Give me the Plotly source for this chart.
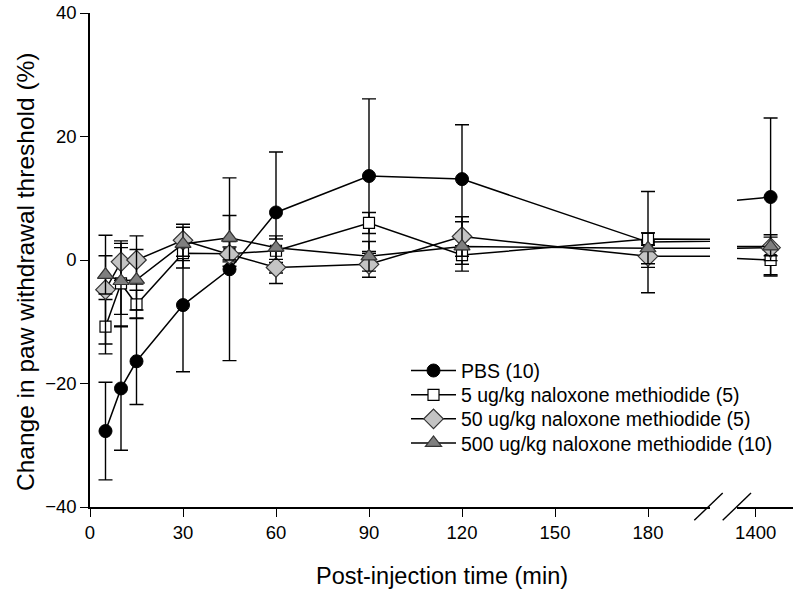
import plotly.graph_objects as go

# ---------------- data ----------------
times = [5, 10, 15, 30, 45, 60, 90, 120, 180, 1440]

pbs = [-27.7, -20.8, -16.4, -7.3, -1.5, 7.7, 13.6, 13.1, 2.9, 10.2]
pbs_err = [7.9, 10.0, 7.0, 10.8, 14.8, 9.8, 12.5, 8.8, 8.2, 12.8]

nal5 = [-10.8, -3.8, -7.2, 1.1, 1.0, 1.5, 6.0, 0.8, 3.4, 0.0]
nal5_err = [4.4, 6.9, 2.3, 2.4, 2.0, 1.9, 1.7, 1.5, 1.0, 2.4]

nal50 = [-4.8, -0.3, 0.0, 3.2, 0.9, -1.2, -0.7, 3.8, 0.6, 2.0]
nal50_err = [8.8, 3.0, 3.9, 2.6, 1.2, 2.6, 2.1, 3.2, 1.8, 2.1]

nal500 = [-2.4, -3.4, -3.2, 2.6, 3.6, 2.0, 0.6, 2.2, 1.9, 2.2]
nal500_err = [3.1, 5.4, 4.9, 2.7, 3.6, 1.9, 2.4, 4.0, 2.5, 1.5]

names = ["PBS (10)", "5 ug/kg naloxone methiodide (5)",
         "50 ug/kg naloxone methiodide (5)", "500 ug/kg naloxone methiodide (10)"]

left_ticks = [0, 30, 60, 90, 120, 150, 180]
right_ticks = [1400]
y_ticks = [-40, -20, 0, 20, 40]

# ---------------- layout geometry ----------------
# body margin is removed (post_script), so figure pixels == screen pixels
W, H = 800, 594
# target screen positions of the plot area
S_LEFT, S_RIGHT, S_TOP, S_BOTTOM = 90, 793, 13.3, 506.7
ML = S_LEFT
MR = W - S_RIGHT
MT = S_TOP
MB = H - S_BOTTOM
PW = W - ML - MR
PH = H - MT - MB


def px(xs):
    """screen x pixel -> paper x"""
    return (xs - S_LEFT) / PW


def py(ys):
    """screen y pixel -> paper y"""
    return (S_BOTTOM - ys) / PH


series = [
    (pbs, pbs_err, dict(symbol="circle", size=13, color="black",
                        line=dict(color="black", width=1))),
    (nal5, nal5_err, dict(symbol="square", size=11, color="white",
                          line=dict(color="black", width=1.2))),
    (nal50, nal50_err, dict(symbol="diamond", size=15, color="#c4c4c4",
                            line=dict(color="#333333", width=1.2))),
    (nal500, nal500_err, dict(symbol="triangle-up", size=14, color="#7f7f7f",
                              line=dict(color="#333333", width=1.2))),
]
legend_ids = ["legend", "legend2", "legend3", "legend4"]
legend_rows = [370.7, 395, 419, 443]

fig = go.Figure()
for xa, show in (("x", True), ("x2", False)):
    for (vals, errs, mk), nm, lg in zip(series, names, legend_ids):
        fig.add_trace(go.Scatter(
            x=times, y=vals, name=nm, mode="lines+markers",
            xaxis=xa, yaxis="y", showlegend=show, legend=lg,
            line=dict(color="black", width=1.5),
            marker=mk,
            error_y=dict(type="data", array=errs, visible=True,
                         color="black", thickness=1.4, width=7),
        ))

font_family = "Liberation Sans, Arial, sans-serif"

legend_style = dict(xanchor="left", yanchor="middle",
                    font=dict(size=19.5, family=font_family),
                    bgcolor="rgba(0,0,0,0)", itemwidth=45)

axis_common = dict(showline=True, linecolor="black", linewidth=1.5,
                   ticks="outside", ticklen=8, tickwidth=1.3, tickcolor="black",
                   showgrid=False, zeroline=False, automargin=False,
                   ticklabeloverflow="allow", tickfont=dict(size=18.5))

fig.update_layout(
    width=W, height=H,
    margin=dict(l=ML, r=MR, t=MT, b=MB, autoexpand=False),
    paper_bgcolor="white", plot_bgcolor="white",
    font=dict(family=font_family, color="black"),
    showlegend=True,
    hovermode=False,
    xaxis=dict(domain=[0, px(710)], range=[0, 200], tickvals=left_ticks,
               anchor="y", **axis_common),
    xaxis2=dict(domain=[px(737), 1], range=[1350, 1500], tickvals=right_ticks,
                anchor="y", **axis_common),
    yaxis=dict(range=[-40, 40], tickvals=y_ticks, anchor="x", **axis_common),
)
for lg, row in zip(legend_ids, legend_rows):
    fig.update_layout({lg: dict(x=px(406), y=py(row), **legend_style)})

# axis titles as annotations
fig.add_annotation(text="Post-injection time (min)", xref="paper", yref="paper",
                   x=px(442), y=py(576), showarrow=False,
                   font=dict(size=23.5, family=font_family),
                   xanchor="center", yanchor="middle")
fig.add_annotation(text="Change in paw withdrawal threshold (%)", xref="paper",
                   yref="paper", x=px(25), y=py(272), textangle=-90,
                   showarrow=False, font=dict(size=24.5, family=font_family),
                   xanchor="center", yanchor="middle")

# axis break slashes
for (x0, y0, x1, y1) in [(694.3, 520, 722.7, 492.7), (722.7, 520, 751, 492.7)]:
    fig.add_shape(type="line", xref="paper", yref="paper",
                  x0=px(x0), y0=py(y0), x1=px(x1), y1=py(y1),
                  line=dict(color="black", width=1.4))

fig.write_html("out.html",
               config={"displayModeBar": False},
               post_script="document.body.style.margin='0px';"
                           "document.body.style.overflow='hidden';")
